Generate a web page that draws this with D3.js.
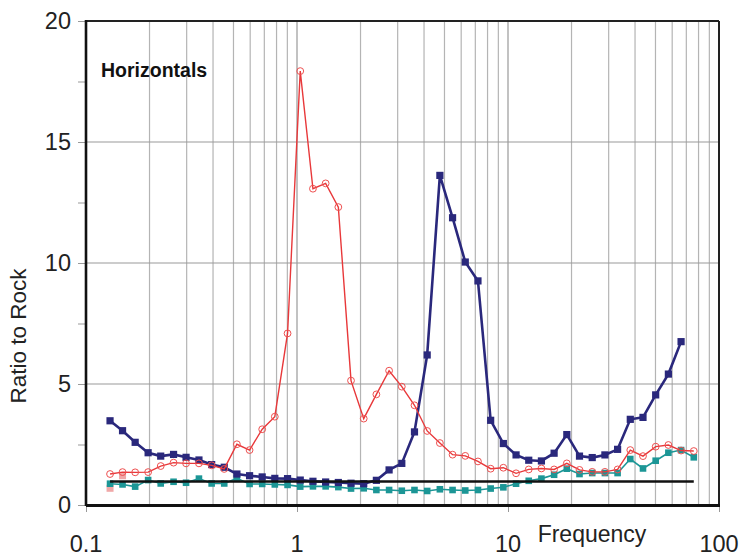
<!DOCTYPE html>
<html><head><meta charset="utf-8">
<script src="https://cdn.jsdelivr.net/npm/d3@7"></script>
<style>body{margin:0;background:#fff}svg{display:block}text{font-family:"Liberation Sans",Arial,sans-serif}</style>
</head><body><svg id="c" width="743" height="556"></svg>
<script>
const freqs=[0.13,0.149,0.171,0.197,0.226,0.26,0.298,0.343,0.394,0.452,0.519,0.596,0.684,0.785,0.902,1.036,1.19,1.367,1.57,1.803,2.071,2.378,2.732,3.138,3.604,4.14,4.755,5.461,6.273,7.205,8.276,9.506,10.92,12.54,14.4,16.54,19.0,21.82,25.07,28.79,33.07,37.98,43.63,50.11,57.56,66.11,75.94];
const navy=[3.48,3.07,2.59,2.16,2.02,2.09,1.97,1.86,1.67,1.56,1.28,1.21,1.16,1.10,1.09,1.03,0.98,0.95,0.93,0.90,0.88,1.02,1.45,1.72,3.02,6.20,13.62,11.87,10.04,9.26,3.50,2.54,2.07,1.85,1.82,2.14,2.91,2.02,1.96,2.07,2.30,3.54,3.62,4.55,5.41,6.75];
const red=[1.28,1.36,1.35,1.36,1.61,1.75,1.72,1.72,1.64,1.49,2.51,2.27,3.13,3.65,7.09,17.93,13.07,13.29,12.31,5.14,3.57,4.57,5.55,4.89,4.12,3.06,2.56,2.08,2.03,1.80,1.50,1.54,1.31,1.47,1.51,1.47,1.72,1.45,1.37,1.37,1.47,2.27,2.02,2.41,2.48,2.25,2.23];
const teal=[0.88,0.85,0.76,1.03,0.89,0.96,0.92,1.09,0.89,0.89,1.10,0.87,0.87,0.85,0.83,0.76,0.77,0.77,0.74,0.68,0.69,0.62,0.62,0.59,0.62,0.58,0.65,0.62,0.60,0.62,0.68,0.73,0.88,1.00,1.09,1.25,1.50,1.28,1.32,1.32,1.32,1.90,1.51,1.83,2.16,2.27,1.97];
const pinkF=[0.13,0.149], pinkV=[0.69,1.21];
const refF=[0.13,75.94], refV=[0.97,0.97];
const xTicks=[0.1,1,10,100], xTickLabels=["0.1","1","10","100"];
const yTicks=[0,5,10,15,20];
const label="Horizontals", xTitle="Frequency", yTitle="Ratio to Rock";

const svg=d3.select("#c");
svg.append("rect").attr("width",743).attr("height",556).attr("fill","#fff");
const x=d3.scaleLog().domain([0.1,100]).range([86,719]);
const y=d3.scaleLinear().domain([0,20]).range([505,21]);

// vertical gridlines
const vg=[];
[0.1,1,10].forEach(d=>{for(let k=1;k<=9;k++){const v=d*k;if(v>0.1&&v<100)vg.push(v);}});
svg.append("g").selectAll("line").data(vg).join("line")
 .attr("x1",d=>x(d)).attr("x2",d=>x(d)).attr("y1",y(20)).attr("y2",y(0))
 .attr("stroke",d=>(Math.abs(Math.log10(d)-Math.round(Math.log10(d)))<1e-6)?"#999":"#b4b4b4").attr("stroke-width",1.2);
// horizontal gridlines
svg.append("g").selectAll("line").data([5,10,15]).join("line")
 .attr("x1",x(0.1)).attr("x2",x(100)).attr("y1",d=>y(d)).attr("y2",d=>y(d))
 .attr("stroke","#9a9a9a").attr("stroke-width",1.2);

// y axis ticks (outside)
const yAxis=d3.axisLeft(y).tickValues(d3.range(0,20.01,2.5)).tickSize(8).tickFormat("");
const ga=svg.append("g").attr("transform",`translate(${x(0.1)},0)`).call(yAxis);
ga.select(".domain").remove();
ga.selectAll("line").attr("stroke","#999");
svg.append("g").selectAll("text").data(yTicks).join("text")
 .attr("x",71).attr("y",d=>y(d)+8).attr("text-anchor","end")
 .attr("font-size",23.5).attr("fill","#222").text(d=>d);
// x axis ticks
const xAxis=d3.axisBottom(x).tickValues(xTicks).tickSize(7).tickFormat("");
const gx=svg.append("g").attr("transform",`translate(0,${y(0)})`).call(xAxis);
gx.select(".domain").remove();
gx.selectAll("line").attr("stroke","#999");
svg.append("g").selectAll("text").data(xTicks).join("text")
 .attr("x",d=>x(d)).attr("y",552).attr("text-anchor","middle")
 .attr("font-size",23.5).attr("fill","#222").text((d,i)=>xTickLabels[i]);

const line=d3.line().x(d=>x(d[0])).y(d=>y(d[1]));
const zip=(f,v)=>v.map((d,i)=>[f[i],d]);

// pink artifacts
svg.append("g").selectAll("rect").data(zip(pinkF,pinkV)).join("rect")
 .attr("x",d=>x(d[0])-3.5).attr("y",d=>y(d[1])-3.5).attr("width",7).attr("height",7).attr("fill","#f0a8a8");

// teal
const tD=zip(freqs,teal);
svg.append("path").datum(tD).attr("d",line).attr("fill","none").attr("stroke","#1c9696").attr("stroke-width",1.6);
svg.append("g").selectAll("rect").data(tD).join("rect")
 .attr("x",d=>x(d[0])-3.3).attr("y",d=>y(d[1])-3.3).attr("width",6.6).attr("height",6.6).attr("fill","#1c9696");
// navy
const nD=zip(freqs,navy);
svg.append("path").datum(nD).attr("d",line).attr("fill","none").attr("stroke","#2a287c").attr("stroke-width",2.6);
svg.append("g").selectAll("rect").data(nD).join("rect")
 .attr("x",d=>x(d[0])-3.6).attr("y",d=>y(d[1])-3.6).attr("width",7.2).attr("height",7.2).attr("fill","#2a287c");
// red
const rD=zip(freqs,red);
svg.append("path").datum(rD).attr("d",line).attr("fill","none").attr("stroke","#e8383a").attr("stroke-width",1.4);
svg.append("g").selectAll("circle").data(rD).join("circle")
 .attr("cx",d=>x(d[0])).attr("cy",d=>y(d[1])).attr("r",3.4).attr("fill","none").attr("stroke","#ee5050").attr("stroke-width",1);
// reference black line
svg.append("path").datum(zip(refF,refV)).attr("d",line).attr("fill","none").attr("stroke","#111").attr("stroke-width",2.4);

// frame
svg.append("line").attr("x1",x(0.1)).attr("x2",x(100)).attr("y1",y(20)).attr("y2",y(20)).attr("stroke","#222").attr("stroke-width",2);
svg.append("line").attr("x1",x(100)).attr("x2",x(100)).attr("y1",y(20)).attr("y2",y(0)+2).attr("stroke","#222").attr("stroke-width",2);
svg.append("line").attr("x1",x(0.1)).attr("x2",x(0.1)).attr("y1",y(20)-1).attr("y2",y(0)+1).attr("stroke","#111").attr("stroke-width",2.6);
svg.append("line").attr("x1",x(0.1)).attr("x2",x(100)+1).attr("y1",y(0)+0.5).attr("y2",y(0)+0.5).attr("stroke","#111").attr("stroke-width",3);

// texts
svg.append("text").attr("x",101).attr("y",77).attr("font-size",19.5).attr("font-weight","bold").attr("fill","#111").text(label);
svg.append("text").attr("x",592).attr("y",542).attr("text-anchor","middle").attr("font-size",23).attr("fill","#222").text(xTitle);
svg.append("text").attr("transform","translate(26,336) rotate(-90)").attr("text-anchor","middle").attr("font-size",22.5).attr("fill","#222").text(yTitle);
</script></body></html>
